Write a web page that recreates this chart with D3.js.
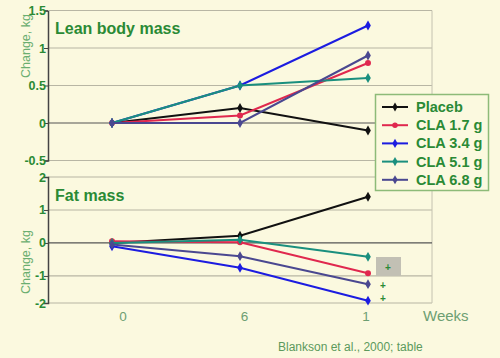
<!DOCTYPE html>
<html>
<head>
<meta charset="utf-8">
<script src="https://cdn.jsdelivr.net/npm/d3@7"></script>
<style>
  body { margin: 0; background: #fbf9df; }
  svg { display: block; font-family: Arial, "Liberation Sans", sans-serif; }
</style>
</head>
<body>
<svg id="chart" width="500" height="358"></svg>
<script>
// data (weeks 0, 6, 12)
var weeks = [0, 6, 12];
var weekLabels = ["0", "6", "1"];
var seriesNames = ["Placeb", "CLA 1.7 g", "CLA 3.4 g", "CLA 5.1 g", "CLA 6.8 g"];
var seriesColors = ["#111111", "#e0284e", "#1c1ce0", "#1a8f7e", "#4a4890"];
var seriesMarks = ["diamond", "circle", "diamond", "diamond", "diamond"];

var leanPlaceb = [0, 0.2, -0.1];
var lean17 = [0, 0.1, 0.8];
var lean34 = [0, 0.5, 1.3];
var lean51 = [0, 0.5, 0.6];
var lean68 = [0, 0, 0.9];

var fatPlaceb = [0, 0.22, 1.4];
var fat17 = [0.05, 0.02, -0.92];
var fat34 = [-0.1, -0.75, -1.75];
var fat51 = [0, 0.1, -0.42];
var fat68 = [-0.05, -0.4, -1.25];

var leanTicks = [1.5, 1, 0.5, 0, -0.5];
var fatTicks = [2, 1, 0, -1, -2];

var svg = d3.select("#chart");
var green = "#2a8a35";

var x = d3.scaleLinear().domain([-3, 15]).range([48, 432]);
// week labels sit a little off the points in the original
var xLab = d3.scaleLinear().domain([0, 12]).range([123, 366]);

function panel(opts) {
  var y = opts.y;
  var g = svg.append("g");

  // gridlines
  g.selectAll(".grid").data(opts.ticks.filter(function(t) { return t != 0; }))
    .enter().append("line")
    .attr("x1", x.range()[0]).attr("x2", x.range()[1])
    .attr("y1", function(d) { return y(d); }).attr("y2", function(d) { return y(d); })
    .style("stroke", "#b8b6a4").style("stroke-width", 1.2);

  // right border
  g.append("line")
    .attr("x1", x.range()[1]).attr("x2", x.range()[1])
    .attr("y1", y.range()[0]).attr("y2", y.range()[1])
    .style("stroke", "#c4c2b0");

  // zero line
  g.append("line")
    .attr("x1", x.range()[0]).attr("x2", x.range()[1])
    .attr("y1", y(0)).attr("y2", y(0))
    .style("stroke", "#555").style("stroke-width", 1.2);

  // y axis
  var ax = g.append("g").attr("transform", "translate(" + x.range()[0] + ",0)")
    .call(d3.axisLeft(y).tickValues(opts.ticks).tickSize(4).tickFormat(function(d) { return d; }));
  ax.select(".domain").style("stroke", "#444").style("stroke-width", 1.5);
  ax.selectAll(".tick line").style("stroke", "#444");
  ax.selectAll("text").style("fill", green).style("font-size", "12.5px")
    .style("font-weight", "bold").attr("x", -2);

  g.append("text").attr("x", 55).attr("y", opts.titleY)
    .text(opts.title).style("fill", green).style("font-size", "16px").style("font-weight", "bold");

  g.append("text")
    .attr("transform", "translate(30," + opts.labelY + ") rotate(-90)")
    .attr("text-anchor", "middle")
    .text("Change, kg").style("fill", "#6aae70").style("font-size", "12.5px");

  var line = d3.line().x(function(d, i) { return x(weeks[i]); }).y(function(d) { return y(d); });

  opts.series.forEach(function(vals, k) {
    g.append("path").datum(vals).attr("d", line)
      .style("fill", "none").style("stroke", seriesColors[k]).style("stroke-width", 2);
    g.selectAll(".pt" + k).data(vals).enter().append("path")
      .attr("transform", function(d, i) { return "translate(" + x(weeks[i]) + "," + y(d) + ")"; })
      .attr("d", d3.symbol().type(seriesMarks[k] == "circle" ? d3.symbolCircle : d3.symbolDiamond).size(28))
      .style("fill", seriesColors[k]);
  });
  return g;
}

var yLean = d3.scaleLinear().domain([-0.5, 1.5]).range([160.5, 10.5]);
panel({
  y: yLean, ticks: leanTicks, title: "Lean body mass", titleY: 34, labelY: 46,
  series: [leanPlaceb, lean17, lean34, lean51, lean68]
});
// top border of lean panel
svg.append("line").attr("x1", 48).attr("x2", 432).attr("y1", 10.5).attr("y2", 10.5)
  .style("stroke", "#b8b6a4").style("stroke-width", 1.2);

var yFat = d3.scaleLinear().domain([-1.82, 2]).range([303, 177]).clamp(true);
var fatG = panel({
  y: yFat, ticks: fatTicks, title: "Fat mass", titleY: 201, labelY: 262,
  series: [fatPlaceb, fat17, fat34, fat51, fat68]
});

// significance marks
fatG.append("rect").attr("x", 376).attr("y", 257).attr("width", 25).attr("height", 19)
  .style("fill", "#c2c0b4");
[[388, 267], [383, 285], [383, 298]].forEach(function(p) {
  fatG.append("text").attr("x", p[0]).attr("y", p[1] + 3.5).attr("text-anchor", "middle")
    .text("+").style("fill", green).style("font-size", "10px").style("font-weight", "bold");
});

// x labels
svg.selectAll(".xl").data(weeks).enter().append("text")
  .attr("x", function(d) { return xLab(d); }).attr("y", 321).attr("text-anchor", "middle")
  .text(function(d, i) { return weekLabels[i]; })
  .style("fill", "#6d9f72").style("font-size", "13.5px");
svg.append("text").attr("x", 423).attr("y", 321).text("Weeks")
  .style("fill", "#6d9f72").style("font-size", "15px");

svg.append("text").attr("x", 278).attr("y", 351).text("Blankson et al., 2000; table")
  .style("fill", "#5c9a5c").style("font-size", "12px");

// legend
var lg = svg.append("g");
lg.append("rect").attr("x", 375.5).attr("y", 94.5).attr("width", 113).attr("height", 96)
  .style("fill", "#fbf9df").style("stroke", "#8dbb78").style("stroke-width", 1.5);
seriesNames.forEach(function(name, k) {
  var yy = 107 + k * 18.2;
  lg.append("line").attr("x1", 382).attr("x2", 408).attr("y1", yy).attr("y2", yy)
    .style("stroke", seriesColors[k]).style("stroke-width", 2);
  lg.append("path").attr("transform", "translate(395," + yy + ")")
    .attr("d", d3.symbol().type(seriesMarks[k] == "circle" ? d3.symbolCircle : d3.symbolDiamond).size(24))
    .style("fill", seriesColors[k]);
  lg.append("text").attr("x", 416).attr("y", yy + 5).text(name)
    .style("fill", green).style("font-size", "14.5px").style("font-weight", "bold");
});
</script>
</body>
</html>
